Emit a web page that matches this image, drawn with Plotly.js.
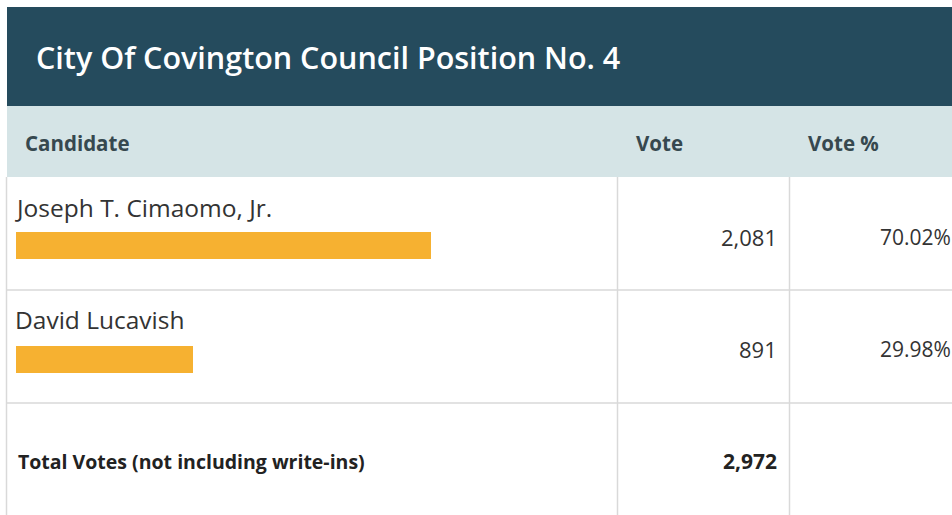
<!DOCTYPE html>
<html>
<head>
<meta charset="utf-8">
<script src="https://cdn.plot.ly/plotly-3.0.1.min.js"></script>
<style>
html,body{margin:0;padding:0;background:#fff;}
#chart{width:952px;height:515px;}
</style>
</head>
<body>
<div id="chart"></div>
<script>
// ---- data ----
var title = "City Of Covington Council Position No. 4";
var headers = ["Candidate", "Vote", "Vote %"];
var candidates = ["Joseph T. Cimaomo, Jr.", "David Lucavish"];
var votes = [2081, 891];
var votePct = [70.02, 29.98];
var totalLabel = "Total Votes (not including write-ins)";
var totalVotes = 2972;

// ---- helpers (pixel -> paper) ----
var W = 952, H = 515;
function px(x){ return x / W; }
function py(y){ return 1 - y / H; }
function fmt(n){ return n.toLocaleString("en-US"); }

var FONT = "Open Sans, Noto Sans, sans-serif";
var lineCol = "#d9d9d9";

var trace = {
  type: "bar",
  orientation: "h",
  y: candidates,
  x: votePct,
  width: 0.237,
  marker: {color: "#f6b131", line: {width: 0}},
  hoverinfo: "none",
  showlegend: false
};

var shapes = [
  {type:"rect", xref:"paper", yref:"paper", x0:px(7), x1:px(952), y0:py(106), y1:py(7), fillcolor:"#254b5d", line:{width:0}, layer:"below"},
  {type:"rect", xref:"paper", yref:"paper", x0:px(7), x1:px(952), y0:py(177), y1:py(106), fillcolor:"#d5e4e6", line:{width:0}, layer:"below"},
  {type:"line", xref:"paper", yref:"paper", x0:px(6.5), x1:px(6.5), y0:py(177), y1:py(515), line:{color:lineCol, width:1.5}},
  {type:"line", xref:"paper", yref:"paper", x0:px(617.5), x1:px(617.5), y0:py(177), y1:py(515), line:{color:lineCol, width:1.5}},
  {type:"line", xref:"paper", yref:"paper", x0:px(789.5), x1:px(789.5), y0:py(177), y1:py(515), line:{color:lineCol, width:1.5}},
  {type:"line", xref:"paper", yref:"paper", x0:px(6), x1:px(952), y0:py(290), y1:py(290), line:{color:lineCol, width:1.5}},
  {type:"line", xref:"paper", yref:"paper", x0:px(6), x1:px(952), y0:py(403), y1:py(403), line:{color:lineCol, width:1.5}}
];

var annotations = [];
function addText(t, x, y, anchor, size, color, weight){
  annotations.push({text:t, xref:"paper", yref:"paper", x:px(x), y:py(y), xanchor:anchor, yanchor:"middle", showarrow:false,
    font:{family:FONT, size:size, color:color, weight:weight||400}});
}
addText(title, 34, 57, "left", 30.5, "#ffffff", 600);
addText(headers[0], 23, 143, "left", 20.5, "#36484f", 700);
addText(headers[1], 634, 143, "left", 20.5, "#36484f", 700);
addText(headers[2], 806, 143, "left", 20.5, "#36484f", 700);

var rowNameY = [207, 319];
var rowValY = [237, 349];
for (var i = 0; i < candidates.length; i++){
  addText(candidates[i], 13, rowNameY[i], "left", 24.5, "#333333", 400);
  addText(fmt(votes[i]), 779, rowValY[i], "right", 22, "#333333", 400);
  addText(votePct[i].toFixed(2) + "%", 953, rowValY[i], "right", 21, "#333333", 400);
}
addText(totalLabel, 16, 461, "left", 19.5, "#222222", 700);
addText(fmt(totalVotes), 779, 461, "right", 21, "#222222", 700);

var layout = {
  width: W, height: H,
  margin: {l:0, r:0, t:0, b:0, pad:0},
  paper_bgcolor: "#ffffff",
  plot_bgcolor: "rgba(0,0,0,0)",
  xaxis: {domain:[px(16), px(608)], range:[0, 100], visible:false, fixedrange:true},
  yaxis: {type:"category", range:[2.364, -2.1535], visible:false, fixedrange:true},
  shapes: shapes,
  annotations: annotations,
  bargap: 0
};

Plotly.newPlot("chart", [trace], layout, {staticPlot:true, displayModeBar:false});
</script>
</body>
</html>
